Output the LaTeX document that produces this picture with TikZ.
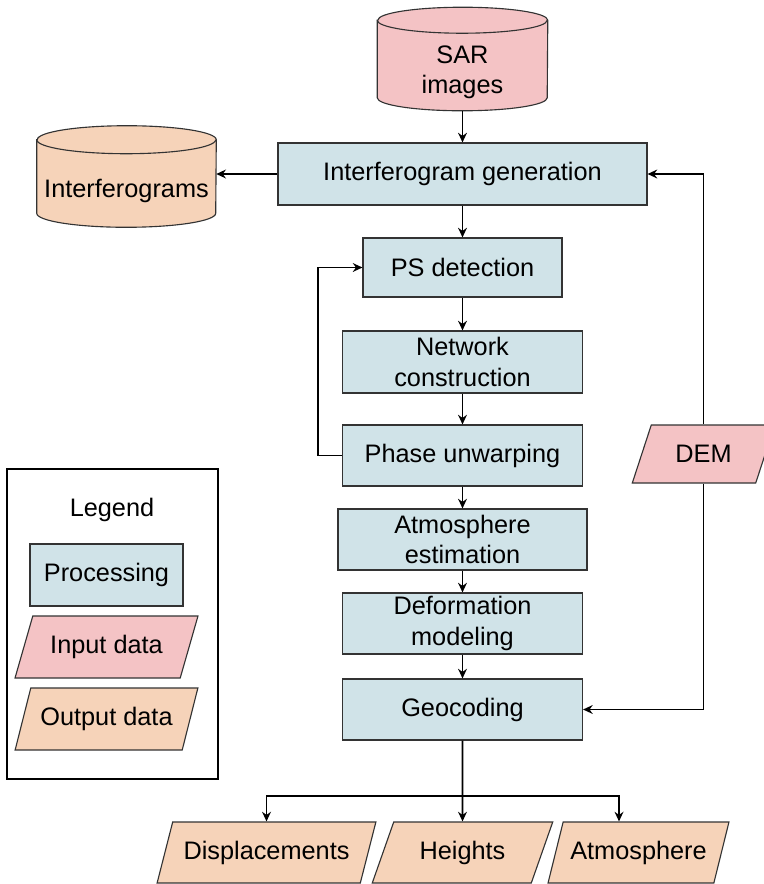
\documentclass[tikz,border=0pt]{standalone}
\usepackage{fontspec}
\setmainfont{Liberation Sans}
\usetikzlibrary{shapes.geometric,arrows.meta,backgrounds}
\definecolor{procblue}{RGB}{208,227,232}
\definecolor{inpink}{RGB}{244,195,197}
\definecolor{outpeach}{RGB}{246,211,185}

\begin{document}
\begin{tikzpicture}[
  font=\fontsize{18}{21.5}\selectfont,
  every node/.style={align=center, inner sep=2pt},
  proc/.style={draw=black!80, line width=0.8pt, fill=procblue, minimum height=1.55cm},
  slanted/.style={trapezium, trapezium left angle=64, trapezium right angle=116,
    trapezium stretches=true, draw=black!80, line width=0.8pt, minimum height=1.525cm},
  indata/.style={slanted, fill=inpink},
  outdata/.style={slanted, fill=outpeach},
  rim/.style={draw=black!80, line width=0.8pt},
  flow/.style={-{Stealth[length=2.4mm,width=2.2mm]}, line width=1.4pt}
]
\useasboundingbox (0,0) rectangle (19.1,-22.1);

% main chain
\node[minimum width=4.25cm, minimum height=1.925cm] (sar) at (11.5625,-1.8) {SAR\\images};
\node[proc, minimum width=9.225cm] (igen) at (11.5625,-4.35) {Interferogram generation};
\node[minimum width=4.475cm, minimum height=1.825cm] (ifg) at (3.1625,-4.7625) {Interferograms};
\node[proc, minimum width=4.975cm, minimum height=1.475cm] (psd) at (11.5625,-6.6875) {PS detection};
\node[proc, minimum width=6cm] (net) at (11.5625,-9.05) {Network\\construction};
\node[proc, minimum width=6cm, minimum height=1.525cm] (unw) at (11.5625,-11.3875) {Phase unwarping};
\node[proc, minimum width=6.225cm, minimum height=1.525cm] (atm) at (11.5625,-13.4875) {Atmosphere\\estimation};
\node[proc, minimum width=6cm, minimum height=1.525cm] (defo) at (11.5625,-15.5875) {Deformation\\modeling};
\node[proc, minimum width=6cm, minimum height=1.525cm] (geo) at (11.5625,-17.7375) {Geocoding};

% cylinders behind the texts
\begin{scope}[on background layer]
\draw[rim, fill=inpink] ([yshift=0.325cm]sar.north west) -- ([yshift=0.325cm]sar.south west)
  arc[start angle=180, end angle=360, x radius=2.125cm, y radius=0.325cm]
  -- ([yshift=0.325cm]sar.north east)
  arc[start angle=0, end angle=180, x radius=2.125cm, y radius=0.325cm] -- cycle;
\draw[rim] ([yshift=0.325cm]sar.north west) arc[start angle=180, end angle=360, x radius=2.125cm, y radius=0.325cm];
\draw[rim, fill=outpeach] ([yshift=0.35cm]ifg.north west) -- ([yshift=0.35cm]ifg.south west)
  arc[start angle=180, end angle=360, x radius=2.2375cm, y radius=0.35cm]
  -- ([yshift=0.35cm]ifg.north east)
  arc[start angle=0, end angle=180, x radius=2.2375cm, y radius=0.35cm] -- cycle;
\draw[rim] ([yshift=0.35cm]ifg.north west) arc[start angle=180, end angle=360, x radius=2.2375cm, y radius=0.35cm];
\end{scope}

% DEM input
\node[indata, minimum width=3.575cm, minimum height=1.45cm] (dem) at (17.5875,-11.35) {DEM};

% products
\node[outdata, minimum width=5.475cm] (disp) at (6.6625,-21.3125) {Displacements};
\node[outdata, minimum width=4.525cm] (hgt) at (11.5625,-21.3125) {Heights};
\node[outdata, minimum width=4.525cm] (atmo) at (15.9625,-21.3125) {Atmosphere};

% legend
\node[draw, line width=1.4pt, minimum width=5.275cm, minimum height=7.75cm] (legend) at (2.8125,-15.6) {};
\node (legtitle) at (2.8,-12.75) {Legend};
\node[proc, minimum width=3.825cm] (lproc) at (2.6625,-14.375) {Processing};
\node[indata, minimum width=4.575cm, minimum height=1.55cm] (lin) at (2.6625,-16.175) {Input data};
\node[outdata, minimum width=4.575cm, minimum height=1.55cm] (lout) at (2.6625,-17.975) {Output data};

% arrows
\draw[flow] (sar) -- (igen);
\draw[flow] (igen.west) -- (ifg.east |- igen.west);
\draw[flow] (igen) -- (psd);
\draw[flow] (psd) -- (net);
\draw[flow] (net) -- (unw);
\draw[flow] (unw) -- (atm);
\draw[flow] (atm) -- (defo);
\draw[flow] (defo) -- (geo);

% feedback loop
\coordinate (loop) at (7.95,-11.3875);
\draw[flow] (unw.west) -- (loop) |- (psd.west);

% DEM lines
\draw[flow] (dem.north) |- (igen.east);
\draw[flow] (dem.south) |- (geo.east);

% split to products
\coordinate (split) at (11.5625,-19.9);
\draw[flow] (geo) -- (hgt);
\draw[flow] (split) -| (disp.north);
\draw[flow] (split) -| ([xshift=-0.4875cm]atmo.north);
\end{tikzpicture}
\end{document}
